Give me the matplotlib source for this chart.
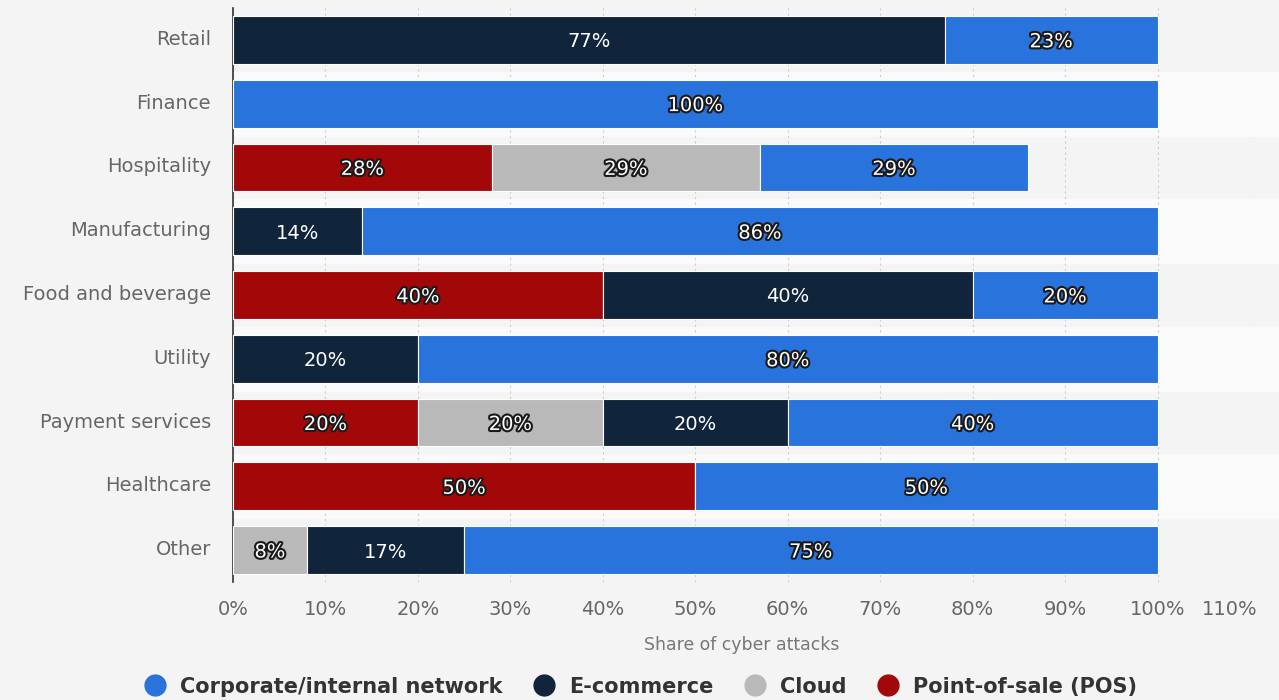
import matplotlib
matplotlib.use("Agg")
import matplotlib.pyplot as plt
import matplotlib.patheffects as pe
import matplotlib.transforms as mtransforms
from matplotlib.lines import Line2D
import numpy as np

categories = ["Retail", "Finance", "Hospitality", "Manufacturing", "Food and beverage",
              "Utility", "Payment services", "Healthcare", "Other"]
pos = [0, 0, 28, 0, 40, 0, 20, 50, 0]
cloud = [0, 0, 29, 0, 0, 0, 20, 0, 8]
ecom = [77, 0, 0, 14, 40, 20, 20, 0, 17]
corp = [23, 100, 29, 86, 20, 80, 40, 50, 75]

series = [("Point-of-sale (POS)", pos, "#a30808"),
          ("Cloud", cloud, "#b9b9b9"),
          ("E-commerce", ecom, "#10243c"),
          ("Corporate/internal network", corp, "#2873dc")]
legend_order = ["Corporate/internal network", "E-commerce", "Cloud", "Point-of-sale (POS)"]

bg = "#f4f4f4"
fig = plt.figure(figsize=(12.79, 7.0), dpi=100, facecolor=bg)
ax = fig.add_axes([233/1279, 118/700, (1250-233)/1279, (582-8)/700])
ax.set_facecolor(bg)

y = np.arange(len(categories))
for i in range(len(categories)):
    if i % 2 == 1:
        ax.axhspan(i-0.5, i+0.5, xmin=0, xmax=1.03, color="#fafafa", zorder=0, clip_on=False)

left = np.zeros(len(categories))
for name, vals, col in series:
    vals = np.array(vals, dtype=float)
    ax.barh(y, vals, left=left, height=0.75, color=col, edgecolor="white",
            linewidth=0.8, zorder=3, label=name)
    for yi, (l, v) in enumerate(zip(left, vals)):
        if v > 0:
            effects = [pe.withStroke(linewidth=3, foreground="#1a1a1a")] if name != "E-commerce" else []
            ax.text(l + v/2, yi + 0.03, f"{int(v)}%", ha="center", va="center",
                    color="white", fontsize=14, zorder=4, path_effects=effects)
    left += vals

ax.set_xlim(0, 110)
ax.set_ylim(len(categories)-0.5, -0.5)
ax.set_xticks(np.arange(0, 111, 10))
ax.set_xticklabels([f"{t}%" for t in range(0, 111, 10)])
ax.set_yticks(y)
ax.set_yticklabels(categories)
ax.tick_params(axis="both", length=0, labelsize=14, colors="#666666")
ax.tick_params(axis="x", pad=13)
ax.tick_params(axis="y", pad=16)
ax.grid(axis="x", linestyle=(0, (2, 3)), color="#cccccc", linewidth=0.8, zorder=1)
ax.set_axisbelow(True)
for s in ["top", "right", "bottom"]:
    ax.spines[s].set_visible(False)
ax.spines["left"].set_color("#333333")
ax.spines["left"].set_linewidth(1.2)
ax.set_xlabel("Share of cyber attacks", fontsize=12.4, color="#777777", labelpad=12)

# nudge labels like the reference
last = ax.get_xticklabels()[-1]
last.set_transform(last.get_transform() + mtransforms.ScaledTranslation(-0.2, 0, fig.dpi_scale_trans))
for lbl in ax.get_yticklabels():
    lbl.set_transform(lbl.get_transform() + mtransforms.ScaledTranslation(0, 0.025, fig.dpi_scale_trans))

colors = {n: c for n, _, c in series}
handles = [Line2D([0], [0], marker="o", linestyle="", markersize=15,
                  markerfacecolor=colors[n], markeredgecolor=colors[n], label=n)
           for n in legend_order]
fig.legend(handles=handles, loc="lower center", bbox_to_anchor=(0.497, -0.022), ncol=4,
           frameon=False, prop={"weight": "bold", "size": 15}, labelcolor="#333333",
           handletextpad=0.2, columnspacing=1.0)

fig.savefig("out.png", dpi=100, facecolor=bg)
